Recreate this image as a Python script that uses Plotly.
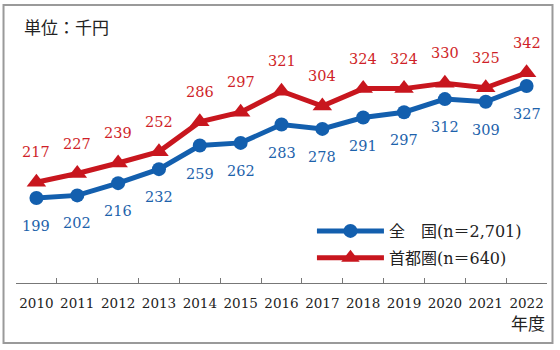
import plotly.graph_objects as go

years = ["2010","2011","2012","2013","2014","2015","2016","2017","2018","2019","2020","2021","2022"]
national = [199, 202, 216, 232, 259, 262, 283, 278, 291, 297, 312, 309, 327]
capital = [217, 227, 239, 252, 286, 297, 321, 304, 324, 324, 330, 325, 342]
name_national = "全　国(n＝2,701)"
name_capital = "首都圏(n＝640)"
unit_label = "単位：千円"
axis_label = "年度"

BLUE = "#135fae"
RED = "#c8161e"
BLUE_T = "#1d62ab"
RED_T = "#cf1f28"
FONT = "DejaVu Serif, Noto Sans CJK JP"

W, H = 560, 350
L, R, T, B = 15.5, 12.5, 20, 67
pw = W - L - R
ph = H - T - B

def px_x(p):
    return (p - L) / pw

def px_y(p):
    return (H - B - p) / ph

fig = go.Figure()
fig.add_trace(go.Scatter(
    x=years, y=national, name=name_national, mode="lines+markers", legendgroup="a",
    line=dict(color=BLUE, width=5), marker=dict(symbol="circle", size=14, color=BLUE),
))
fig.add_trace(go.Scatter(
    x=years, y=capital, name=name_capital, mode="lines+markers", legendgroup="b",
    line=dict(color=RED, width=5), marker=dict(symbol="triangle-up", size=17, color=RED),
))

ann = []
for i, v in enumerate(national):
    ann.append(dict(x=i, y=v, xref="x", yref="y", text=str(v), showarrow=False, yshift=-28,
                    font=dict(family=FONT, size=14.5, color=BLUE_T)))
for i, v in enumerate(capital):
    ann.append(dict(x=i, y=v, xref="x", yref="y", text=str(v), showarrow=False, yshift=30,
                    font=dict(family=FONT, size=14.5, color=RED_T)))
ann.append(dict(xref="paper", yref="paper", x=px_x(22), y=px_y(28), xanchor="left", yanchor="middle",
                text=unit_label, showarrow=False, font=dict(family=FONT, size=17, color="#222")))
ann.append(dict(xref="paper", yref="paper", x=px_x(548), y=px_y(324), xanchor="right", yanchor="middle",
                text=axis_label, showarrow=False, font=dict(family=FONT, size=17, color="#222")))

fig.update_layout(
    width=W, height=H,
    margin=dict(l=L, r=R, t=T, b=B),
    paper_bgcolor="white", plot_bgcolor="white",
    font=dict(family=FONT, color="#222"),
    annotations=ann,
    showlegend=True,
    legend=dict(x=px_x(312), y=px_y(214), xanchor="left", yanchor="top",
                font=dict(family=FONT, size=16, color="#222"),
                itemwidth=67, bgcolor="rgba(0,0,0,0)", tracegroupgap=3),
    shapes=[dict(type="rect", xref="paper", yref="paper",
                 x0=px_x(3), x1=px_x(553), y0=px_y(343), y1=px_y(5),
                 line=dict(color="#9a9a9a", width=2), fillcolor="rgba(0,0,0,0)", layer="below")],
    xaxis=dict(type="category", range=[-0.5, 12.5], showgrid=False, zeroline=False,
               showline=True, linecolor="#777", linewidth=1,
               ticks="inside", tickson="boundaries", ticklen=5, tickcolor="#777",
               ticklabelstandoff=8,
               tickangle=0, tickfont=dict(family=FONT, size=13.5, color="#222")),
    yaxis=dict(range=[101.9, 402.4], visible=False, showgrid=False, zeroline=False),
)

fig.write_html("out.html")
